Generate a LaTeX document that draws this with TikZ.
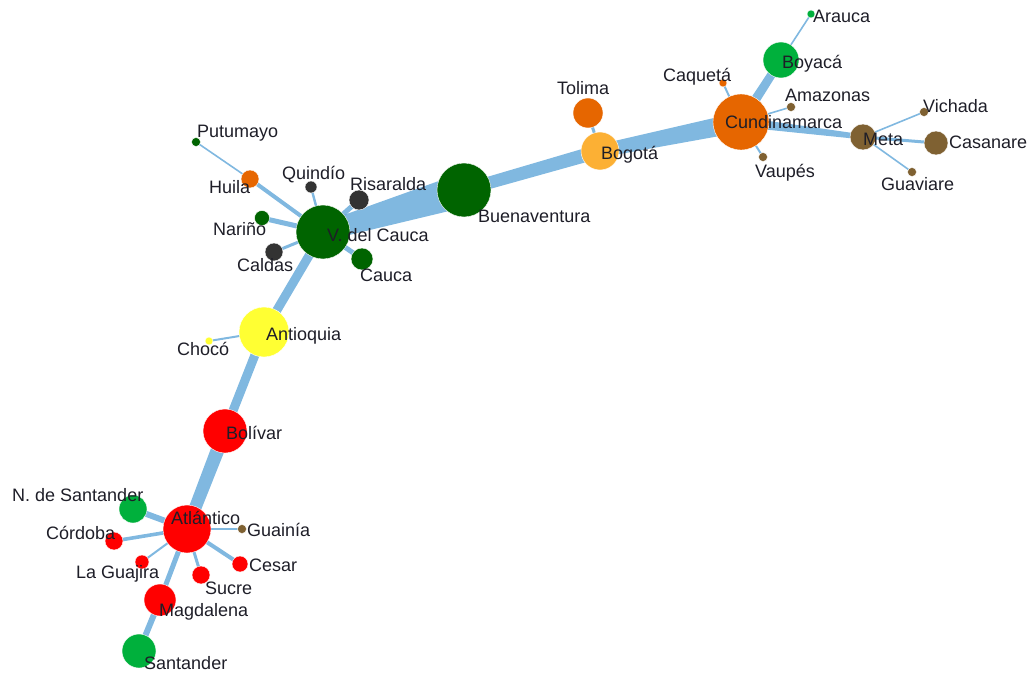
\documentclass[tikz,border=0pt]{standalone}
\usepackage{fontspec}
\setmainfont{Liberation Sans}
\usepackage{xcolor}
\usepackage{tikz}
\usetikzlibrary{calc}

\definecolor{dkgreen}{RGB}{0,100,0}
\definecolor{ltgreen}{RGB}{0,176,60}
\definecolor{orng}{RGB}{230,102,0}
\definecolor{ltorng}{RGB}{252,176,52}
\definecolor{brwn}{RGB}{127,97,50}
\definecolor{dkgray}{RGB}{51,51,51}
\definecolor{yllw}{RGB}{255,255,51}
\definecolor{rd}{RGB}{255,0,0}
\definecolor{linkcol}{RGB}{96,166,216}
\definecolor{txtcol}{RGB}{30,30,40}

\pgfdeclarelayer{bg}
\pgfsetlayers{bg,main}

% tapered connector: from node, to node, half width at each end
\newcommand{\linkband}[4]{%
  \fill[linkcol,fill opacity=0.8]
    ($(#1.center)!#3pt!90:(#2.center)$) -- ($(#2.center)!#4pt!-90:(#1.center)$)
    -- ($(#2.center)!#4pt!90:(#1.center)$) -- ($(#1.center)!#3pt!-90:(#2.center)$) -- cycle;}

\begin{document}
\begin{tikzpicture}
        [x=1pt,y=-1pt,
         dot/.style={circle,inner sep=0pt,outer sep=0pt,draw=white,line width=0.4pt},
         lbl/.style={anchor=mid west,inner sep=0pt,text=txtcol,font=\fontsize{18}{20}\selectfont}]
        \useasboundingbox (0,0) rectangle (1034,677);

        % departments
        \node [dot,fill=brwn,minimum size=9,name=amazonas] at (791,107) {};
        \node [dot,fill=brwn,minimum size=9,name=vaupes] at (763,157) {};
        \node [dot,fill=orng,minimum size=8,name=caqueta] at (723,83) {};
        \node [dot,fill=ltgreen,minimum size=8,name=arauca] at (811,14) {};
        \node [dot,fill=ltgreen,minimum size=36,name=boyaca] at (781,60) {};
        \node [dot,fill=orng,minimum size=56,name=cundi] at (741,122) {};
        \node [dot,fill=brwn,minimum size=9,name=vichada] at (924,112) {};
        \node [dot,fill=brwn,minimum size=9,name=guaviare] at (912,172) {};
        \node [dot,fill=brwn,minimum size=24,name=casanare] at (936,143) {};
        \node [dot,fill=brwn,minimum size=26,name=meta] at (863,137) {};
        \node [dot,fill=orng,minimum size=30,name=tolima] at (588,113) {};
        \node [dot,fill=ltorng,minimum size=38,name=bogota] at (600,151) {};
        \node [dot,fill=dkgreen,minimum size=54,name=buenav] at (464,190) {};
        \node [dot,fill=dkgray,minimum size=20,name=risaralda] at (359,200) {};
        \node [dot,fill=dkgray,minimum size=12,name=quindio] at (311,187) {};
        \node [dot,fill=dkgreen,minimum size=9,name=putumayo] at (196,142) {};
        \node [dot,fill=orng,minimum size=18,name=huila] at (250,179) {};
        \node [dot,fill=dkgreen,minimum size=15,name=narino] at (262,218) {};
        \node [dot,fill=dkgray,minimum size=18,name=caldas] at (274,252) {};
        \node [dot,fill=dkgreen,minimum size=22,name=cauca] at (362,259) {};
        \node [dot,fill=dkgreen,minimum size=54,name=vcauca] at (323,232) {};
        \node [dot,fill=yllw,minimum size=8,name=choco] at (209,341) {};
        \node [dot,fill=yllw,minimum size=50,name=antioquia] at (264,332) {};
        \node [dot,fill=rd,minimum size=44,name=bolivar] at (225,431) {};
        \node [dot,fill=ltgreen,minimum size=28,name=nsantander] at (133,509) {};
        \node [dot,fill=rd,minimum size=18,name=cordoba] at (114,541) {};
        \node [dot,fill=brwn,minimum size=9,name=guainia] at (242,529) {};
        \node [dot,fill=rd,minimum size=14,name=guajira] at (142,562) {};
        \node [dot,fill=rd,minimum size=16,name=cesar] at (240,564) {};
        \node [dot,fill=rd,minimum size=18,name=sucre] at (201,575) {};
        \node [dot,fill=ltgreen,minimum size=34,name=santander] at (139,651) {};
        \node [dot,fill=rd,minimum size=32,name=magdalena] at (160,600) {};
        \node [dot,fill=rd,minimum size=48,name=atlantico] at (187,529) {};

        % connectors
        \begin{pgfonlayer}{bg}
        \linkband{vcauca}{buenav}{9}{17}
        \linkband{buenav}{bogota}{6}{7}
        \linkband{bogota}{cundi}{6.5}{10}
        \linkband{cundi}{boyaca}{5}{4}
        \linkband{cundi}{meta}{5}{2.5}
        \linkband{vcauca}{antioquia}{4.5}{4.5}
        \linkband{antioquia}{bolivar}{4.5}{4.5}
        \linkband{bolivar}{atlantico}{7}{6}
        \foreach \a/\b/\w in {tolima/bogota/1.5, boyaca/arauca/0.8, cundi/caqueta/1,
                cundi/amazonas/0.8, cundi/vaupes/1, meta/vichada/0.8, meta/casanare/1.5,
                meta/guaviare/0.8, vcauca/huila/2, huila/putumayo/0.8, vcauca/quindio/1.2,
                vcauca/risaralda/2.5, vcauca/narino/2.5, vcauca/caldas/1.5, vcauca/cauca/2.5,
                antioquia/choco/1, atlantico/nsantander/3, atlantico/cordoba/1.8,
                atlantico/guainia/1.3, atlantico/guajira/1, atlantico/cesar/2,
                atlantico/sucre/1.5, atlantico/magdalena/2.5, magdalena/santander/3}
            \linkband{\a}{\b}{\w}{\w};
        \end{pgfonlayer}

        % names
        \node [lbl,name=l-arauca] at (813,20) {Arauca};
        \node [lbl,name=l-boyaca] at (782,66) {Boyacá};
        \node [lbl,name=l-caqueta] at (663,79) {Caquetá};
        \node [lbl,name=l-amazonas] at (785,99) {Amazonas};
        \node [lbl,name=l-cundi] at (725,126) {Cundinamarca};
        \node [lbl,name=l-vichada] at (923,110) {Vichada};
        \node [lbl,name=l-meta] at (863,143) {Meta};
        \node [lbl,name=l-casanare] at (949,146) {Casanare};
        \node [lbl,name=l-guaviare] at (881,188) {Guaviare};
        \node [lbl,name=l-vaupes] at (755,175) {Vaupés};
        \node [lbl,name=l-tolima] at (557,92) {Tolima};
        \node [lbl,name=l-bogota] at (601,157) {Bogotá};
        \node [lbl,name=l-buenav] at (478,220) {Buenaventura};
        \node [lbl,name=l-putumayo] at (197,135) {Putumayo};
        \node [lbl,name=l-huila] at (209,191) {Huila};
        \node [lbl,name=l-quindio] at (282,177) {Quindío};
        \node [lbl,name=l-risaralda] at (350,188) {Risaralda};
        \node [lbl,name=l-narino] at (213,233) {Nariño};
        \node [lbl,name=l-vcauca] at (327,239) {V. del Cauca};
        \node [lbl,name=l-caldas] at (237,269) {Caldas};
        \node [lbl,name=l-cauca] at (360,279) {Cauca};
        \node [lbl,name=l-antioquia] at (266,338) {Antioquia};
        \node [lbl,name=l-choco] at (177,353) {Chocó};
        \node [lbl,name=l-bolivar] at (226,437) {Bolívar};
        \node [lbl,name=l-nsantander] at (12,499) {N. de Santander};
        \node [lbl,name=l-atlantico] at (171,522) {Atlántico};
        \node [lbl,name=l-guainia] at (247,534) {Guainía};
        \node [lbl,name=l-cordoba] at (46,537) {Córdoba};
        \node [lbl,name=l-guajira] at (76,576) {La Guajira};
        \node [lbl,name=l-cesar] at (249,569) {Cesar};
        \node [lbl,name=l-sucre] at (205,592) {Sucre};
        \node [lbl,name=l-magdalena] at (159,614) {Magdalena};
        \node [lbl,name=l-santander] at (144,667) {Santander};
\end{tikzpicture}
\end{document}
